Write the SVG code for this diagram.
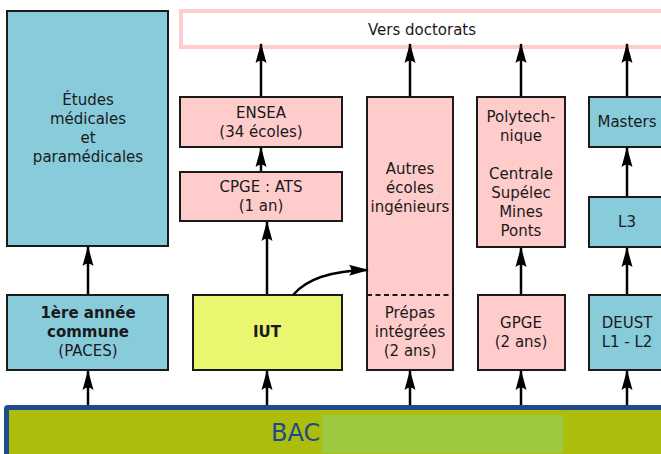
<svg xmlns="http://www.w3.org/2000/svg" width="661" height="454" viewBox="0 0 661 454">
<style>
text{font-family:"DejaVu Sans",sans-serif;font-size:15px;fill:#1a1a1a;text-anchor:middle}
.b{font-weight:bold}
.box{stroke:#1a1a1a;stroke-width:2}
.blue{fill:#88cbdb}
.pink{fill:#ffcccc}
.yel{fill:#eaf570}
.ln{stroke:#000;stroke-width:2.5;fill:none;marker-end:url(#ah)}
</style>
<defs>
<marker id="ah" markerUnits="userSpaceOnUse" markerWidth="24" markerHeight="14" viewBox="-20 -7 22 14" refX="0" refY="0" orient="auto">
<path d="M1,0 L-19,-5.5 Q-14,0 -19,5.5 Z" fill="#000"/>
</marker>
</defs>
<rect width="661" height="454" fill="#fff"/>
<g id="bac">
<rect x="6.5" y="407.5" width="670" height="60" rx="1.5" fill="#adbd0b" stroke="#1f4a8c" stroke-width="5"/>
<rect x="322" y="415" width="241" height="38" fill="#9dc940"/>
<text x="271" y="441" style="font-size:24px;fill:#1f4a8c;text-anchor:start">BAC</text>
</g>
<g id="doctorats">
<rect x="181" y="11" width="500" height="36" fill="#fff" stroke="#ffcccc" stroke-width="4"/>
<text x="422" y="35">Vers doctorats</text>
</g>
<g id="etudes">
<rect class="box blue" x="7" y="11" width="161" height="235"/>
<text x="88" y="105">Études</text>
<text x="88" y="124">médicales</text>
<text x="88" y="143">et</text>
<text x="88" y="162">paramédicales</text>
</g>
<g id="paces">
<rect class="box blue" x="7" y="295" width="161" height="75"/>
<text class="b" x="88" y="318">1ère année</text>
<text class="b" x="88" y="337">commune</text>
<text x="88" y="356">(PACES)</text>
</g>
<g id="ensea">
<rect class="box pink" x="180" y="97" width="162" height="50"/>
<text x="261" y="118">ENSEA</text>
<text x="261" y="137">(34 écoles)</text>
</g>
<g id="cpge">
<rect class="box pink" x="180" y="172" width="162" height="49"/>
<text x="261" y="192">CPGE : ATS</text>
<text x="261" y="211">(1 an)</text>
</g>
<g id="iut">
<rect class="box yel" x="193" y="295" width="149" height="75"/>
<text class="b" x="267" y="337">IUT</text>
</g>
<g id="autres">
<rect class="box pink" x="367" y="97" width="86" height="273"/>
<line x1="367" y1="295" x2="453" y2="295" stroke="#1a1a1a" stroke-width="2" stroke-dasharray="5,3.5"/>
<text x="410" y="174">Autres</text>
<text x="410" y="193">écoles</text>
<text x="410" y="212">ingénieurs</text>
<text x="410" y="318">Prépas</text>
<text x="410" y="337">intégrées</text>
<text x="410" y="356">(2 ans)</text>
</g>
<g id="poly">
<rect class="box pink" x="477" y="97" width="88" height="150"/>
<text x="521" y="122">Polytech-</text>
<text x="521" y="141">nique</text>
<text x="521" y="179">Centrale</text>
<text x="521" y="198">Supélec</text>
<text x="521" y="217">Mines</text>
<text x="521" y="236">Ponts</text>
</g>
<g id="gpge">
<rect class="box pink" x="478" y="295" width="87" height="75"/>
<text x="521" y="328">GPGE</text>
<text x="521" y="347">(2 ans)</text>
</g>
<g id="masters">
<rect class="box blue" x="589" y="97" width="80" height="50"/>
<text x="627" y="127">Masters</text>
</g>
<g id="l3">
<rect class="box blue" x="589" y="197" width="80" height="50"/>
<text x="627" y="227">L3</text>
</g>
<g id="deust">
<rect class="box blue" x="589" y="295" width="80" height="75"/>
<text x="627" y="328">DEUST</text>
<text x="627" y="347">L1 - L2</text>
</g>
<g id="connectors">
<line class="ln" x1="88" y1="405" x2="88" y2="371"/>
<line class="ln" x1="88" y1="294" x2="88" y2="247"/>
<line class="ln" x1="267" y1="405" x2="267" y2="371"/>
<line class="ln" x1="267" y1="294" x2="267" y2="222"/>
<line class="ln" x1="261" y1="171" x2="261" y2="148"/>
<line class="ln" x1="261" y1="96" x2="261" y2="44"/>
<line class="ln" x1="410" y1="405" x2="410" y2="371"/>
<line class="ln" x1="410" y1="96" x2="410" y2="44"/>
<line class="ln" x1="521" y1="405" x2="521" y2="371"/>
<line class="ln" x1="521" y1="294" x2="521" y2="248"/>
<line class="ln" x1="521" y1="96" x2="521" y2="44"/>
<line class="ln" x1="627" y1="405" x2="627" y2="371"/>
<line class="ln" x1="627" y1="294" x2="627" y2="248"/>
<line class="ln" x1="627" y1="196" x2="627" y2="148"/>
<line class="ln" x1="627" y1="96" x2="627" y2="44"/>
<path class="ln" d="M293,295 Q313,271 368,270" stroke-width="2.2"/>
</g>
</svg>
